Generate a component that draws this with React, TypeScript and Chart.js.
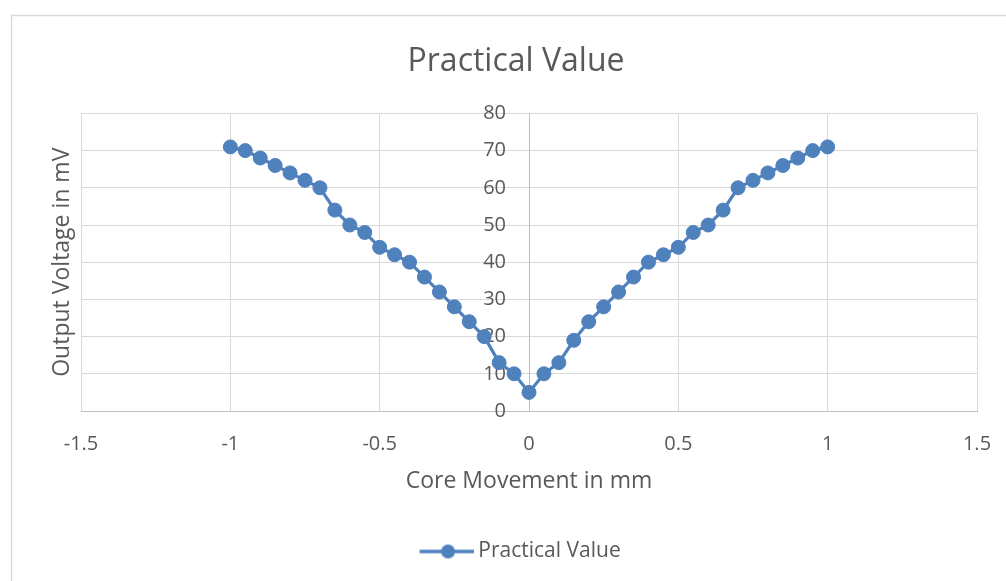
import React, { useEffect, useRef } from "react";
import { Chart, registerables } from "chart.js";

Chart.register(...registerables);

const coreMovement = [
  -1, -0.95, -0.9, -0.85, -0.8, -0.75, -0.7, -0.65, -0.6, -0.55, -0.5,
  -0.45, -0.4, -0.35, -0.3, -0.25, -0.2, -0.15, -0.1, -0.05, 0,
  0.05, 0.1, 0.15, 0.2, 0.25, 0.3, 0.35, 0.4, 0.45, 0.5,
  0.55, 0.6, 0.65, 0.7, 0.75, 0.8, 0.85, 0.9, 0.95, 1,
];
const outputVoltage = [
  71, 70, 68, 66, 64, 62, 60, 54, 50, 48, 44,
  42, 40, 36, 32, 28, 24, 20, 13, 10, 5,
  10, 13, 19, 24, 28, 32, 36, 40, 42, 44,
  48, 50, 54, 60, 62, 64, 66, 68, 70, 71,
];
const xTickValues = [-1.5, -1, -0.5, 0, 0.5, 1, 1.5];
const yTickValues = [0, 10, 20, 30, 40, 50, 60, 70, 80];

const chartTitle = "Practical Value";
const seriesName = "Practical Value";
const xTitle = "Core Movement in mm";
const yTitle = "Output Voltage in mV";

const BLUE = "#4F81BD";
const TEXT = "#595959";
const GRID = "#d9d9d9";
const AXIS = "#bfbfbf";
const FONT = "'Open Sans', sans-serif";

// y-axis crosses the x-axis at 0; its labels sit a little to the left of that line
const Y_AXIS_CROSS = 0;
const Y_LABEL_GAP_PX = 23;
const X_LABEL_GAP_PX = 21;

export default function App() {
  const ref = useRef<HTMLCanvasElement | null>(null);

  useEffect(() => {
    if (!ref.current) return;

    // legend marker: line with a circle (asymmetric padding to place it)
    const marker = document.createElement("canvas");
    marker.width = 68;
    marker.height = 16;
    const mctx = marker.getContext("2d")!;
    mctx.strokeStyle = BLUE;
    mctx.lineWidth = 3.5;
    mctx.beginPath();
    mctx.moveTo(14, 8);
    mctx.lineTo(68, 8);
    mctx.stroke();
    mctx.fillStyle = BLUE;
    mctx.beginPath();
    mctx.arc(42.5, 8, 7, 0, Math.PI * 2);
    mctx.fill();

    const framePlugin = {
      id: "frame",
      beforeDraw(chart: any) {
        const ctx = chart.ctx;
        ctx.save();
        ctx.fillStyle = "#ffffff";
        ctx.fillRect(0, 0, chart.width, chart.height);
        ctx.strokeStyle = GRID;
        ctx.lineWidth = 1.5;
        ctx.strokeRect(11.5, 15.5, 1200, 800);
        ctx.restore();
      },
    };

    // Offset tick labels away from their axis lines without Chart.js
    // reserving extra horizontal room for the tick padding.
    const labelShift = {
      id: "labelShift",
      beforeDraw(chart: any) {
        const shift = (id: string, dx: number, dy: number) => {
          const s = chart.scales[id];
          if (!s) return;
          const items = s.getLabelItems(chart.chartArea);
          if (items.__shifted) return;
          items.forEach((it: any) => {
            const t = it.options.translation;
            it.options.translation = [t[0] + dx, t[1] + dy];
          });
          items.__shifted = true;
        };
        shift("y", -Y_LABEL_GAP_PX, 0);
        shift("x", 0, X_LABEL_GAP_PX);
      },
    };

    const chart = new Chart(ref.current, {
      type: "line",
      data: {
        datasets: [
          {
            label: seriesName,
            data: coreMovement.map((x, i) => ({ x, y: outputVoltage[i] })),
            borderColor: BLUE,
            backgroundColor: BLUE,
            pointBackgroundColor: BLUE,
            pointBorderColor: BLUE,
            borderWidth: 3.2,
            pointRadius: 7,
            pointBorderWidth: 1,
            tension: 0,
            yAxisID: "y",
            xAxisID: "x",
          },
        ],
      },
      options: {
        animation: false,
        responsive: false,
        devicePixelRatio: 1,
        layout: { padding: { left: 55, right: 29, top: 0, bottom: 9 } },
        plugins: {
          title: {
            display: true,
            text: chartTitle,
            color: TEXT,
            font: { family: FONT, size: 32, weight: "normal", lineHeight: 1.2 },
            padding: { top: 43, bottom: 32 },
          },
          legend: {
            display: true,
            position: "bottom",
            labels: {
              usePointStyle: true,
              pointStyle: marker as any,
              pointStyleWidth: 56.5,
              color: TEXT,
              font: { family: FONT, size: 21 },
              padding: 10,
            },
          },
          tooltip: { enabled: false },
        },
        scales: {
          x: {
            type: "linear",
            position: "bottom",
            min: -1.5,
            max: 1.5,
            afterBuildTicks(scale: any) {
              scale.ticks = xTickValues.map((v) => ({ value: v }));
            },
            ticks: {
              color: TEXT,
              font: { family: FONT, size: 20 },
              padding: 0,
              callback: (v: any) => String(v),
            },
            grid: {
              color: (c: any) => (c.tick && c.tick.value === Y_AXIS_CROSS ? AXIS : GRID),
              lineWidth: 1,
              drawTicks: false,
              tickLength: 0,
            },
            border: { color: AXIS, width: 1 },
            title: {
              display: true,
              text: xTitle,
              color: TEXT,
              font: { family: FONT, size: 23, lineHeight: 1.2 },
              padding: { top: 0, bottom: 36 },
            },
            afterFit(scale: any) {
              scale.height = 120;
            },
          },
          y: {
            type: "linear",
            position: { x: Y_AXIS_CROSS } as any,
            min: 0,
            max: 80,
            afterBuildTicks(scale: any) {
              scale.ticks = yTickValues.map((v) => ({ value: v }));
            },
            ticks: {
              color: TEXT,
              font: { family: FONT, size: 20 },
              padding: 0,
              callback: (v: any) => String(v),
            },
            grid: { color: GRID, lineWidth: 1, drawTicks: false, tickLength: 0 },
            border: { color: AXIS, width: 1 },
            title: { display: false },
            afterFit(scale: any) {
              scale.width = 0;
            },
          },
          yTitle: {
            type: "linear",
            position: "left",
            display: true,
            ticks: { display: false },
            grid: { display: false, drawTicks: false },
            border: { display: false },
            title: {
              display: true,
              text: yTitle,
              color: TEXT,
              font: { family: FONT, size: 23, lineHeight: 1.2 },
              padding: { top: -6.8, bottom: 0 },
            },
            afterFit(scale: any) {
              scale.width = 26;
            },
          },
        },
      } as any,
      plugins: [framePlugin, labelShift],
    });

    return () => chart.destroy();
  }, []);

  return (
    <div style={{ position: "absolute", left: 0, top: 0, width: 1006, height: 581 }}>
      <canvas ref={ref} width={1006} height={581} style={{ display: "block" }} />
    </div>
  );
}
